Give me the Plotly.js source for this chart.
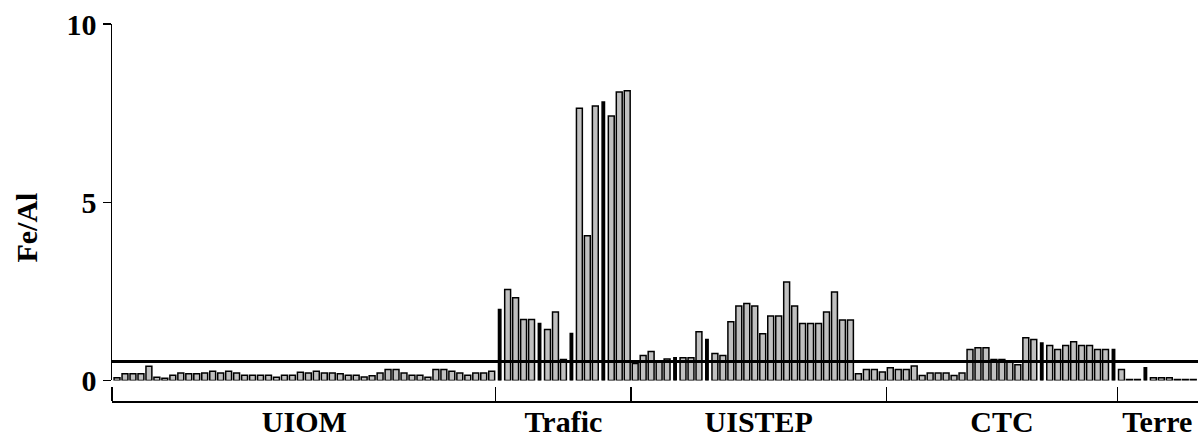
<!DOCTYPE html>
<html>
<head>
<meta charset="utf-8">
<script src="https://cdn.plot.ly/plotly-3.0.1.min.js"></script>
<style>html,body{margin:0;padding:0;background:#fff}</style>
</head>
<body>
<div id="chart" style="width:1198px;height:444px"></div>
<script>
// ---- data ----
const groups = ["UIOM", "Trafic", "UISTEP", "CTC", "Terre"];
const uiom = [0.08, 0.19, 0.19, 0.19, 0.40, 0.09, 0.06, 0.15, 0.21, 0.19, 0.19, 0.21, 0.26, 0.21, 0.26, 0.21,
              0.15, 0.15, 0.15, 0.15, 0.09, 0.15, 0.15, 0.23, 0.21, 0.26, 0.21, 0.21, 0.19, 0.15, 0.15, 0.10,
              0.13, 0.21, 0.31, 0.31, 0.21, 0.15, 0.15, 0.09, 0.31, 0.31, 0.26, 0.21, 0.15, 0.21, 0.21, 0.26];
const trafic = [1.99, 2.55, 2.32, 1.71, 1.71, 1.60, 1.43, 1.92, 0.59, 1.32, 7.64, 4.06, 7.70, 7.81, 7.42, 8.09, 8.13];
const uistep = [0.48, 0.70, 0.81, 0.55, 0.60, 0.64, 0.64, 0.64, 1.37, 1.15, 0.76, 0.70, 1.65, 2.09, 2.16, 2.09,
                1.31, 1.81, 1.81, 2.76, 2.09, 1.60, 1.60, 1.60, 1.92, 2.48, 1.70, 1.70, 0.19, 0.31, 0.31, 0.24];
const ctc = [0.36, 0.31, 0.31, 0.41, 0.14, 0.21, 0.21, 0.21, 0.14, 0.21, 0.87, 0.92, 0.92, 0.59, 0.59, 0.53,
             0.44, 1.20, 1.15, 1.05, 0.98, 0.87, 0.98, 1.09, 0.98, 0.98, 0.87, 0.87, 0.87];
const terre = [0.31, 0.03, 0.03, 0.36, 0.08, 0.08, 0.08, 0.03, 0.03, 0.03];
const referenceLevel = 0.53;
const yTickValues = [0, 5, 10];
const yTickLabels = ["0", "5", "10"];
const yTitle = "Fe/Al";
// bars drawn as thin dark bars (index within each group)
const darkBars = {UIOM: [], Trafic: [0, 5, 9, 13], UISTEP: [5, 9], CTC: [19, 28], Terre: [3]};

// ---- build ----
const series = [uiom, trafic, uistep, ctc, terre];
const xs = [], ys = [], colors = [], widths = [];
const centers = [], separators = [];
let idx = 0;
series.forEach((vals, g) => {
  const start = idx;
  vals.forEach((v, i) => {
    const dark = darkBars[groups[g]].includes(i);
    xs.push(idx); ys.push(v);
    colors.push(dark ? "#000000" : "#c0c0c0");
    widths.push(dark ? 0.3 : 0.74);
    idx++;
  });
  centers.push((start + idx - 1) / 2);
  if (g < series.length - 1) separators.push(idx - 0.5);
});
const xRange = [-0.63, idx - 1 + 0.6];

const font = {family: "Liberation Serif, Times New Roman, serif", color: "#000", weight: "bold"};

const traces = [
  {
    type: "bar", x: xs, y: ys, width: widths,
    marker: {color: colors, line: {color: "#000", width: 1.5}},
    hoverinfo: "skip", showlegend: false
  },
  {
    type: "scatter", mode: "lines", xaxis: "x2", yaxis: "y",
    x: xRange, y: [referenceLevel, referenceLevel],
    line: {color: "#000", width: 3}, hoverinfo: "skip", showlegend: false
  }
];

const layout = {
  width: 1198, height: 444,
  margin: {l: 112, r: 0, t: 24, b: 43},
  paper_bgcolor: "#fff", plot_bgcolor: "#fff",
  bargap: 0,
  xaxis: {range: xRange, showline: false, showticklabels: false, ticks: "", showgrid: false, zeroline: false},
  xaxis2: {
    overlaying: "x", anchor: "free", position: 0, side: "bottom",
    range: xRange, showline: true, linecolor: "#000", linewidth: 1.5,
    tickmode: "array", tickvals: centers, ticktext: groups, ticks: "",
    ticklabelstandoff: -7,
    tickfont: Object.assign({size: 30}, font),
    minor: {tickmode: "array", tickvals: [xRange[0]].concat(separators), ticks: "inside", ticklen: 14, tickwidth: 1.5, tickcolor: "#000", showgrid: false},
    showgrid: false, zeroline: false
  },
  yaxis: {
    domain: [0.0544, 1], range: [0, 10],
    tickmode: "array", tickvals: yTickValues, ticktext: yTickLabels,
    ticks: "outside", ticklen: 8, tickwidth: 1.5, tickcolor: "#000",
    showline: true, linecolor: "#000", linewidth: 1.5,
    showgrid: false, zeroline: false,
    tickfont: Object.assign({size: 30}, font)
  },
  annotations: [{
    text: yTitle, textangle: -90, xref: "paper", yref: "paper",
    x: -0.0783, xanchor: "center", y: 0.46, yanchor: "middle", showarrow: false,
    font: Object.assign({size: 30}, font)
  }]
};

Plotly.newPlot("chart", traces, layout, {displayModeBar: false, staticPlot: true});
</script>
</body>
</html>
